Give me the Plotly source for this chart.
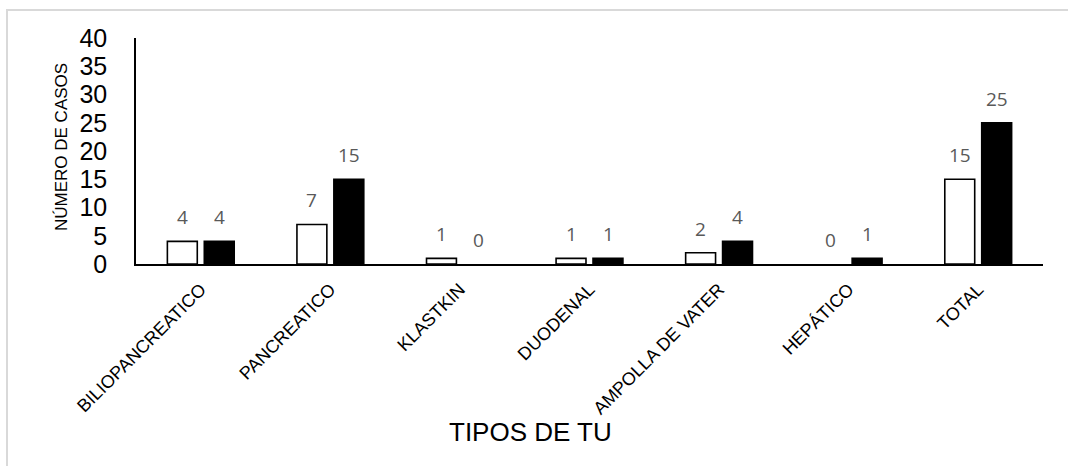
import plotly.graph_objects as go

categories = ["BILIOPANCREATICO", "PANCREATICO", "KLASTKIN", "DUODENAL",
              "AMPOLLA DE VATER", "HEPÁTICO", "TOTAL"]
serie_blanca = [4, 7, 1, 1, 2, 0, 15]
serie_negra = [4, 15, 0, 1, 4, 1, 25]
y_ticks = [0, 5, 10, 15, 20, 25, 30, 35, 40]

W, H = 1068, 466
L, R, T, B = 136, 25, 38, 202
pw, ph = W - L - R, H - T - B


def line_widths(vals):
    return [1.6 if v != 0 else 0 for v in vals]


fig = go.Figure()
fig.add_trace(go.Bar(x=categories, y=serie_blanca, name="Serie 1",
                     marker=dict(color="white",
                                 line=dict(color="black", width=line_widths(serie_blanca)))))
fig.add_trace(go.Bar(x=categories, y=serie_negra, name="Serie 2",
                     marker=dict(color="black",
                                 line=dict(color="black", width=line_widths(serie_negra)))))

annotations = []
for vals, shift in ((serie_blanca, -18.5), (serie_negra, 18.5)):
    for c, v in zip(categories, vals):
        annotations.append(dict(x=c, y=v, xref="x", yref="y", text=str(v),
                                showarrow=False, xshift=shift, yshift=24,
                                yanchor="middle",
                                font=dict(family="Open Sans", size=19, color="#595959")))

# axis titles as annotations
annotations.append(dict(x=(530 - L) / pw, y=(T + ph - 432) / ph, xref="paper", yref="paper",
                        text="TIPOS DE TU", showarrow=False, xanchor="center", yanchor="middle",
                        font=dict(family="Liberation Sans, Arial", size=26, color="black")))
annotations.append(dict(x=(61 - L) / pw, y=(T + ph - 147) / ph, xref="paper", yref="paper",
                        text="NÚMERO DE CASOS", showarrow=False, textangle=-90,
                        xanchor="center", yanchor="middle",
                        font=dict(family="Liberation Sans, Arial", size=17, color="black")))

fig.update_layout(
    width=W, height=H,
    margin=dict(l=L, r=R, t=T, b=B, autoexpand=False),
    paper_bgcolor="white", plot_bgcolor="white",
    barmode="group", bargap=0.43, bargroupgap=0.19,
    showlegend=False,
    annotations=annotations,
    shapes=[dict(type="rect", xref="paper", yref="paper",
                 x0=(7 - L) / pw, x1=1.5, y0=-2, y1=(T + ph - 10) / ph,
                 line=dict(color="#d9d9d9", width=2), fillcolor="rgba(0,0,0,0)", layer="below")],
    xaxis=dict(showline=True, linecolor="black", linewidth=1.6, showgrid=False,
               ticks="", tickangle=-45, ticklabelstandoff=6, automargin=False,
               tickfont=dict(family="Liberation Sans, Arial", size=18, color="black")),
    yaxis=dict(range=[0, 40], tickvals=y_ticks, showline=True, linecolor="black",
               linewidth=1.6, showgrid=False, zeroline=False, ticks="",
               ticklabelstandoff=22, automargin=False,
               tickfont=dict(family="Liberation Sans, Arial", size=25, color="black")),
)

fig.write_html("out.html", config={"displayModeBar": False},
               post_script="document.body.style.margin='0';document.body.style.overflow='hidden';")
